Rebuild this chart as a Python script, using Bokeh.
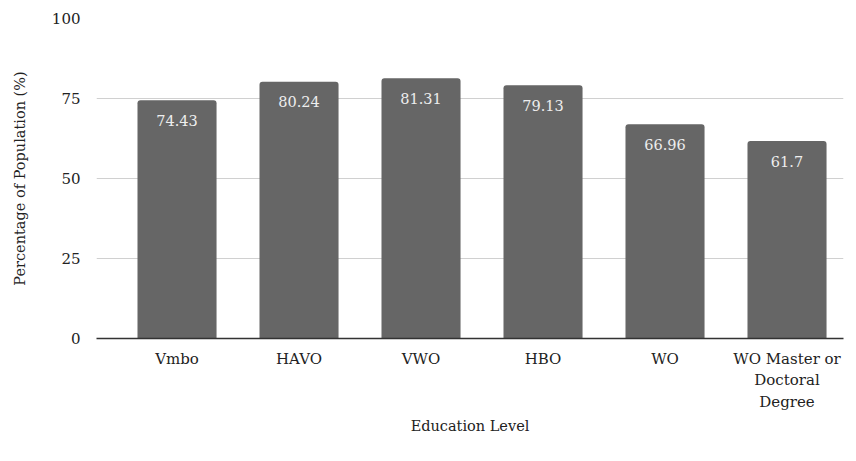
from bokeh.plotting import figure
from bokeh.models import ColumnDataSource, Range1d, FixedTicker
from bokeh.core.properties import value
from bokeh.embed import file_html
from bokeh.resources import INLINE

categories = ["Vmbo", "HAVO", "VWO", "HBO", "WO", "WO Master or\nDoctoral\nDegree"]
percentages = [74.43, 80.24, 81.31, 79.13, 66.96, 61.7]
value_labels = ["74.43", "80.24", "81.31", "79.13", "66.96", "61.7"]
y_ticks = [0, 25, 50, 75, 100]

FONT = "DejaVu Serif"
xs = list(range(len(categories)))
src = ColumnDataSource(dict(x=xs, y=percentages, lab=value_labels))

p = figure(width=856, height=461, output_backend="svg", toolbar_location=None,
           x_range=Range1d(-0.66, 5.463), y_range=Range1d(0, 100))
p.min_border_left = 96
p.min_border_right = 13
p.min_border_top = 18
p.min_border_bottom = 123
p.outline_line_color = None
p.background_fill_color = "white"
p.border_fill_color = "white"

p.vbar(x="x", top="y", width=0.648, bottom=0, source=src, fill_color="#666666",
       line_color=None, border_radius=[3, 3, 0, 0])
p.text(x="x", y="y", text="lab", source=src, text_align="center", text_baseline="middle",
       y_offset=20, text_color="#eeeeee", text_font=value(FONT), text_font_size="14.5px")

p.xgrid.grid_line_color = None
p.ygrid.grid_line_color = "#d0d0d0"
p.ygrid.grid_line_width = 1
p.ygrid.ticker = FixedTicker(ticks=y_ticks)

p.yaxis.ticker = FixedTicker(ticks=y_ticks)
p.yaxis.axis_line_color = None
p.yaxis.major_tick_line_color = None
p.yaxis.minor_tick_line_color = None
p.yaxis.major_label_standoff = 10
p.yaxis.major_label_text_font = FONT
p.yaxis.major_label_text_font_size = "15px"
p.yaxis.major_label_text_color = "#222222"
p.yaxis.axis_label = "Percentage of Population (%)"
p.yaxis.axis_label_text_font = FONT
p.yaxis.axis_label_text_font_style = "normal"
p.yaxis.axis_label_text_font_size = "14.5px"
p.yaxis.axis_label_text_color = "#222222"
p.yaxis.axis_label_standoff = 21

p.xaxis.ticker = FixedTicker(ticks=xs)
p.xaxis.major_label_overrides = {i: c for i, c in enumerate(categories)}
p.xaxis.axis_line_color = "#333333"
p.xaxis.axis_line_width = 1.5
p.xaxis.major_tick_line_color = None
p.xaxis.minor_tick_line_color = None
p.xaxis.major_label_standoff = 5
p.xaxis.major_label_text_font = FONT
p.xaxis.major_label_text_font_size = "15px"
p.xaxis.major_label_text_color = "#222222"
p.xaxis.axis_label = "Education Level"
p.xaxis.axis_label_text_font = FONT
p.xaxis.axis_label_text_font_style = "normal"
p.xaxis.axis_label_text_font_size = "14.5px"
p.xaxis.axis_label_text_color = "#222222"
p.xaxis.axis_label_standoff = 4

open("out.html", "w").write(file_html(p, INLINE))
